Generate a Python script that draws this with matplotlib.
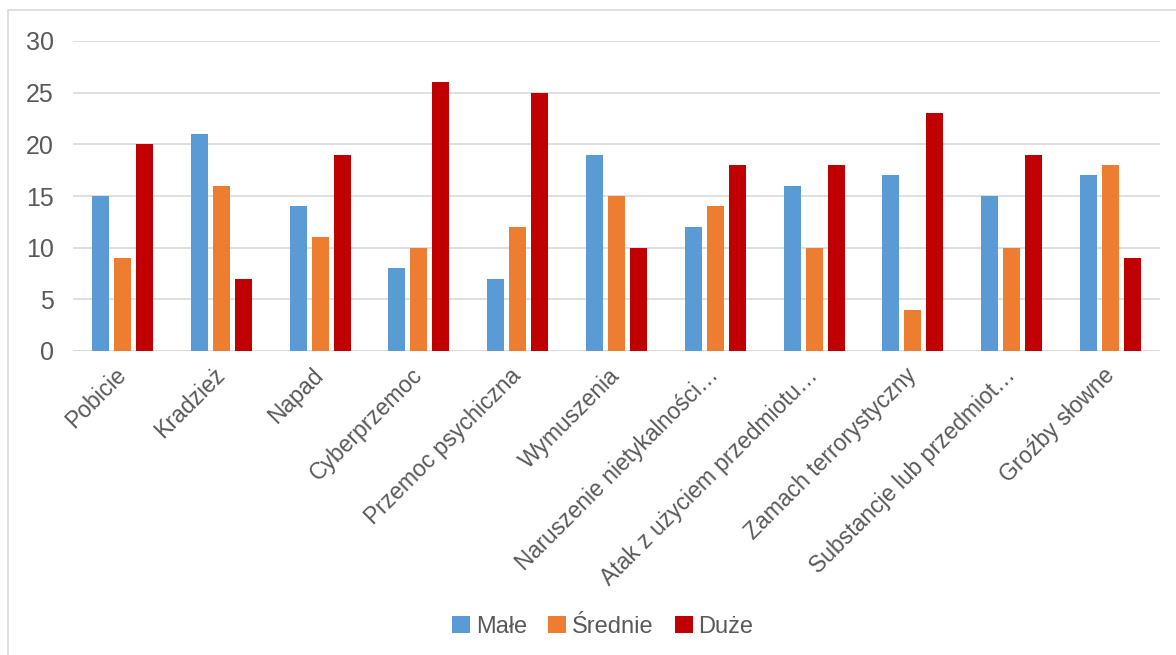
import numpy as np
import matplotlib.pyplot as plt
from matplotlib.patches import Rectangle

plt.rcParams['font.family'] = ['Liberation Sans', 'DejaVu Sans']

# -----------------------------
# Data
# -----------------------------
categories = ['Pobicie', 'Kradzież', 'Napad', 'Cyberprzemoc', 'Przemoc psychiczna',
              'Wymuszenia', 'Naruszenie nietykalności…', 'Atak z użyciem przedmiotu…',
              'Zamach terrorystyczny', 'Substancje lub przedmiot…', 'Groźby słowne']
male = [15, 21, 14, 8, 7, 19, 12, 16, 17, 15, 17]
srednie = [9, 16, 11, 10, 12, 15, 14, 10, 4, 10, 18]
duze = [20, 7, 19, 26, 25, 10, 18, 18, 23, 19, 9]

series = [('Małe', male, '#5B9BD5'),
          ('Średnie', srednie, '#ED7D31'),
          ('Duże', duze, '#C00000')]

text_color = '#595959'
grid_color = '#D9D9D9'

# -----------------------------
# Plot
# -----------------------------
fig = plt.figure(figsize=(11.76, 6.55), dpi=100)
fig.patches.append(Rectangle((8 / 1176, -0.1), 1.2, 1.1 - 10 / 655,
                             transform=fig.transFigure, fill=False,
                             edgecolor=grid_color, linewidth=1.2))

ax = fig.add_axes([73 / 1176, 1 - 351 / 655, (1160 - 73) / 1176, (351 - 41) / 655])

x = np.arange(len(categories))
width = 0.172
offset = 0.223
for i, (name, vals, color) in enumerate(series):
    ax.bar(x + (i - 1) * offset, vals, width, color=color, label=name, zorder=3)

ax.set_xlim(-0.5, len(categories) - 0.5)
ax.set_ylim(0, 30)
ax.set_yticks(range(0, 31, 5))
ax.yaxis.grid(True, color=grid_color, linewidth=1.2, zorder=0)
ax.set_axisbelow(True)
for side in ['top', 'right', 'left', 'bottom']:
    ax.spines[side].set_visible(False)
ax.axhline(0, color=grid_color, linewidth=1.2, zorder=1)

ax.tick_params(axis='both', length=0, colors=text_color)
ax.tick_params(axis='y', labelsize=18, pad=14)
ax.set_xticks(x)
ax.set_xticklabels(categories, rotation=45, ha='right', va='center',
                   rotation_mode='anchor', fontsize=16.5)
ax.tick_params(axis='x', pad=15)

leg = fig.legend(loc='center', bbox_to_anchor=(603 / 1176, 1 - 627 / 655),
                 ncol=3, frameon=False, fontsize=17, handlelength=0.75,
                 handleheight=0.75, handletextpad=0.25, columnspacing=0.9)
for t in leg.get_texts():
    t.set_color(text_color)

fig.savefig('out.png', dpi=100)
